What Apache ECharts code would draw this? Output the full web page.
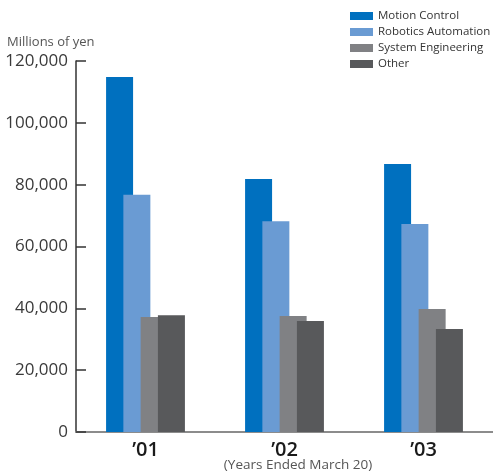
<!DOCTYPE html>
<html>
<head>
<meta charset="utf-8">
<script src="https://cdn.jsdelivr.net/npm/echarts@6/dist/echarts.min.js"></script>
<style>
  html, body { margin: 0; padding: 0; background: #ffffff; }
  #chart { width: 493px; height: 473px; }
</style>
</head>
<body>
<div id="chart"></div>
<script>
// Net sales by business segment, millions of yen
const years = ['\u201901', '\u201902', '\u201903'];
const motionControl = [114800, 81800, 86700];
const roboticsAutomation = [76700, 68200, 67300];
const systemEngineering = [37200, 37500, 39800];
const other = [37800, 35900, 33300];
const yTicks = { min: 0, max: 120000, interval: 20000 };

const FONT = '"Open Sans", "Noto Sans", sans-serif';

function makeSeries(name, data, color) {
  return {
    name: name,
    type: 'bar',
    data: data,
    barWidth: 27,
    barGap: '-36%',
    itemStyle: { color: color },
    emphasis: { disabled: true }
  };
}

const chart = echarts.init(document.getElementById('chart'), null, { renderer: 'canvas' });
chart.setOption({
  animation: false,
  backgroundColor: '#ffffff',
  textStyle: { fontFamily: FONT },
  grid: { left: 76, right: -2, top: 61, bottom: 41, containLabel: false },
  legend: {
    orient: 'vertical',
    left: 350,
    top: 10,
    padding: 0,
    itemWidth: 23,
    itemHeight: 8,
    itemGap: 4,
    icon: 'rect',
    textStyle: { fontFamily: FONT, fontSize: 11.5, color: '#333333', lineHeight: 12 },
    data: ['Motion Control', 'Robotics Automation', 'System Engineering', 'Other']
  },
  xAxis: {
    type: 'category',
    data: years,
    axisLine: { show: true, lineStyle: { color: '#8c8c8c', width: 2 } },
    axisTick: { show: false },
    axisLabel: { fontFamily: FONT, fontSize: 20, fontWeight: 600, color: '#1a1a1a', margin: 8 }
  },
  yAxis: {
    type: 'value',
    min: yTicks.min,
    max: yTicks.max,
    interval: yTicks.interval,
    axisLine: { show: true, lineStyle: { color: '#333333', width: 1.5 } },
    axisTick: { show: true, inside: true, length: 10, lineStyle: { color: '#333333', width: 1.5 } },
    splitLine: { show: false },
    axisLabel: {
      fontFamily: FONT, fontSize: 17, color: '#3a3a3a', margin: 8,
      formatter: function (v) { return v.toLocaleString('en-US'); }
    }
  },
  graphic: [
    {
      type: 'text', left: 7, top: 36,
      style: { text: 'Millions of yen', font: '13px ' + FONT, fill: '#555555' }
    },
    {
      type: 'text', x: 298, y: 465,
      style: { text: '(Years Ended March 20)', font: '13.5px ' + FONT, fill: '#555555',
               align: 'center', verticalAlign: 'middle' }
    }
  ],
  series: [
    makeSeries('Motion Control', motionControl, '#0070bf'),
    makeSeries('Robotics Automation', roboticsAutomation, '#6a9bd3'),
    makeSeries('System Engineering', systemEngineering, '#808184'),
    makeSeries('Other', other, '#58595b')
  ]
});
</script>
</body>
</html>
